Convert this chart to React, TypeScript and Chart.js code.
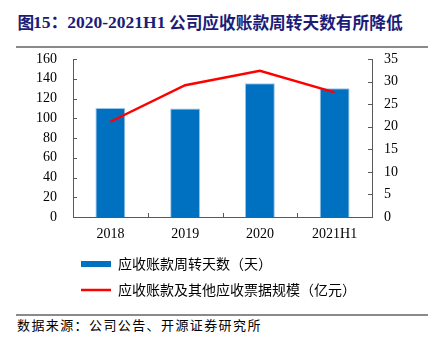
import React, { useEffect, useRef } from "react";
import { Chart, registerables } from "chart.js";

Chart.register(...registerables);

const categories = ["2018", "2019", "2020", "2021H1"];
const turnoverDays = [110.5, 110, 135.5, 130.5];
const receivables = [21.1, 29.2, 32.4, 27.6];
const leftTicks = [0, 160, 20];
const rightTicks = [0, 35, 5];

const titleParts = ["图", "15：", "2020-2021H1", "公司应收账款周转天数有所降低"];
const barLabel = "应收账款周转天数（天）";
const lineLabel = "应收账款及其他应收票据规模（亿元）";
const sourceText = "数据来源：公司公告、开源证券研究所";

const BLUE = "#0070C0";
const BAR_EDGE = "#9DC3E6";
const RED = "#FF0000";
const AXIS = "#595959";
const SERIF = '"Liberation Serif", "Times New Roman", serif';
const CJK = '"Noto Sans CJK SC", sans-serif';

const innerTicks = {
  id: "innerTicks",
  afterDraw(chart: any) {
    const { ctx, chartArea } = chart;
    const { left, right, bottom } = chartArea;
    const x = chart.scales.x;
    const y = chart.scales.y;
    const y1 = chart.scales.y1;
    ctx.save();
    ctx.strokeStyle = AXIS;
    ctx.lineWidth = 1;
    ctx.beginPath();
    y.ticks.forEach((t: any) => {
      const py = Math.round(y.getPixelForValue(t.value)) + 0.5;
      ctx.moveTo(left, py);
      ctx.lineTo(left + 4, py);
    });
    y1.ticks.forEach((t: any) => {
      const py = Math.round(y1.getPixelForValue(t.value)) + 0.5;
      ctx.moveTo(right - 4, py);
      ctx.lineTo(right, py);
    });
    for (let i = 0; i < x.ticks.length - 1; i++) {
      const px = Math.round((x.getPixelForTick(i) + x.getPixelForTick(i + 1)) / 2) + 0.5;
      ctx.moveTo(px, bottom);
      ctx.lineTo(px, bottom - 4);
    }
    ctx.stroke();
    ctx.restore();
  },
};

const legendShift = {
  id: "legendShift",
  afterLayout(chart: any) {
    if (chart.legend) chart.legend.left = 69;
  },
};

export default function App() {
  const ref = useRef<HTMLCanvasElement | null>(null);

  useEffect(() => {
    if (!ref.current) return;
    const chart = new Chart(ref.current, {
      type: "bar",
      data: {
        labels: categories,
        datasets: [
          {
            type: "bar",
            label: barLabel,
            data: turnoverDays,
            backgroundColor: BLUE,
            borderColor: BAR_EDGE,
            borderWidth: 1,
            borderSkipped: "bottom",
            barPercentage: 0.4,
            categoryPercentage: 1,
            yAxisID: "y",
            order: 1,
          },
          {
            type: "line",
            label: lineLabel,
            data: receivables,
            borderColor: RED,
            backgroundColor: RED,
            borderWidth: 2.5,
            pointRadius: 0,
            tension: 0,
            yAxisID: "y1",
            order: 0,
          },
        ],
      } as any,
      options: {
        responsive: false,
        animation: false,
        layout: { padding: { top: 9, left: 0, right: 0, bottom: 0 } },
        plugins: {
          tooltip: { enabled: false },
          title: { display: false },
          legend: {
            position: "bottom",
            align: "start",
            labels: {
              usePointStyle: true,
              pointStyleWidth: 30,
              boxHeight: 6,
              padding: 12,
              color: "#000",
              font: { family: CJK, size: 14 },
              generateLabels: () => [
                {
                  text: barLabel,
                  fillStyle: BLUE,
                  strokeStyle: BLUE,
                  lineWidth: 0,
                  pointStyle: "rect",
                  datasetIndex: 0,
                  hidden: false,
                } as any,
                {
                  text: lineLabel,
                  fillStyle: RED,
                  strokeStyle: RED,
                  lineWidth: 2.5,
                  pointStyle: "line",
                  datasetIndex: 1,
                  hidden: false,
                } as any,
              ],
            },
          },
        },
        scales: {
          x: {
            offset: true,
            grid: { display: false, drawTicks: false },
            border: { display: true, color: AXIS, width: 1 },
            ticks: { color: "#000", padding: 9, font: { family: SERIF, size: 14 } },
            afterFit: (s: any) => {
              s.height = 28;
            },
          },
          y: {
            position: "left",
            min: leftTicks[0],
            max: leftTicks[1],
            ticks: {
              stepSize: leftTicks[2],
              autoSkip: false,
              color: "#000",
              padding: 16,
              font: { family: SERIF, size: 14 },
            },
            grid: { display: false, drawTicks: false },
            border: { display: true, color: AXIS, width: 1 },
            afterFit: (s: any) => {
              s.width = 73;
              s.paddingTop = 0;
              s.paddingBottom = 0;
            },
          },
          y1: {
            position: "right",
            min: rightTicks[0],
            max: rightTicks[1],
            ticks: {
              stepSize: rightTicks[2],
              autoSkip: false,
              color: "#000",
              padding: 12,
              font: { family: SERIF, size: 14 },
            },
            grid: { display: false, drawTicks: false },
            border: { display: true, color: AXIS, width: 1 },
            afterFit: (s: any) => {
              s.width = 62;
              s.paddingTop = 0;
              s.paddingBottom = 0;
            },
          },
        },
      } as any,
      plugins: [innerTicks, legendShift],
    });
    return () => chart.destroy();
  }, []);

  const titleStyle: any = {
    position: "absolute",
    top: 12,
    fontFamily: `${SERIF.split(",")[0]}, ${CJK}`,
    fontWeight: "bold",
    fontSize: 17.5,
    lineHeight: "20px",
    color: "#1c1c78",
    whiteSpace: "pre",
  };
  const cjkTitle: any = { ...titleStyle, fontFamily: CJK, fontSize: 16.7 };

  return (
    <div style={{ position: "absolute", left: 0, top: 0, width: 434, height: 338, background: "#fff", overflow: "hidden" }}>
      <div style={{ position: "absolute", left: 0, top: 0, width: 434, height: 46 }}>
        <span style={{ ...cjkTitle, left: 17.5 }}>{titleParts[0]}</span>
        <span style={{ ...titleStyle, left: 33 }}>{titleParts[1]}</span>
        <span style={{ ...titleStyle, left: 67.3 }}>{titleParts[2]}</span>
        <span style={{ ...cjkTitle, left: 169 }}>{titleParts[3]}</span>
      </div>
      <div style={{ position: "absolute", left: 16, top: 46, width: 412, height: 2, background: "#8a8a8a" }} />
      <canvas ref={ref} width={434} height={257} style={{ position: "absolute", left: 0, top: 50, width: 434, height: 257 }} />
      <div style={{ position: "absolute", left: 16, top: 314, width: 412, height: 1.5, background: "#8a8a8a" }} />
      <div
        style={{
          position: "absolute",
          left: 17,
          top: 317,
          fontFamily: CJK,
          fontSize: 13,
          lineHeight: "16px",
          letterSpacing: "1.4px",
          color: "#000",
          whiteSpace: "nowrap",
        }}
      >
        {sourceText}
      </div>
    </div>
  );
}
